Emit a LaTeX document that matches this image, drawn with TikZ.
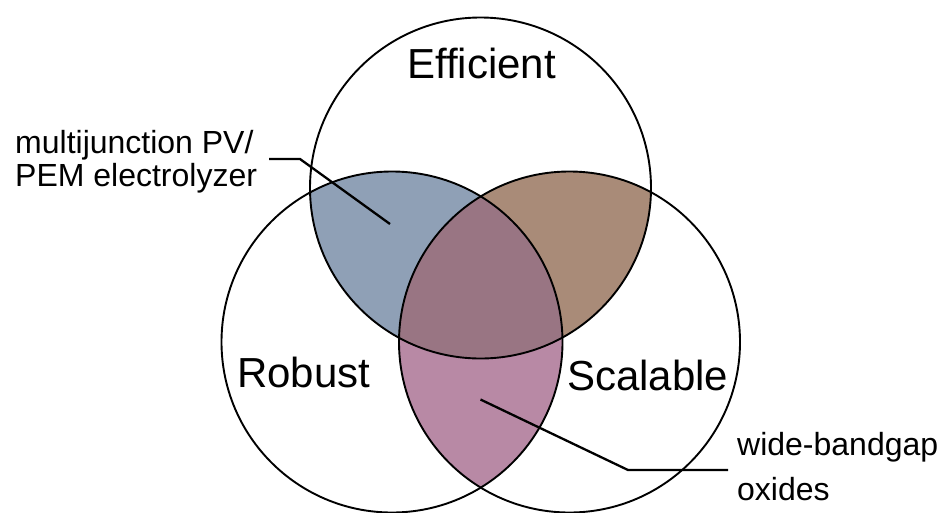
\documentclass[tikz,border=0pt]{standalone}
\usepackage{fontspec}
\setmainfont{Liberation Sans}
\usepackage{tikz}

\definecolor{pvblue}{RGB}{143,160,182}
\definecolor{pectan}{RGB}{169,139,120}
\definecolor{oxpink}{RGB}{184,137,165}
\definecolor{allmauve}{RGB}{153,117,131}

\begin{document}
\begin{tikzpicture}[x=1pt,y=-1pt,
    ring/.style={line width=1.9pt},
    lead/.style={line width=2.3pt},
    bigtext/.style={font=\fontsize{42}{48}\selectfont, inner sep=0pt},
    smalltext/.style={font=\fontsize{32}{33.5}\selectfont, inner sep=0pt, align=left}]
    \useasboundingbox (0,0) rectangle (940,512);
    \def\rad{170.5pt}
    \coordinate (E) at (480.5,188);
    \coordinate (R) at (392,342);
    \coordinate (S) at (569.5,342);
    % pairwise overlaps
    \begin{scope}
        \clip (E) circle (\rad);
        \fill[pvblue] (R) circle (\rad);
        \fill[pectan] (S) circle (\rad);
    \end{scope}
    \begin{scope}
        \clip (R) circle (\rad);
        \fill[oxpink] (S) circle (\rad);
    \end{scope}
    % triple overlap
    \begin{scope}
        \clip (E) circle (\rad);
        \clip (R) circle (\rad);
        \fill[allmauve] (S) circle (\rad);
    \end{scope}
    \draw[ring] (E) circle (\rad);
    \draw[ring] (R) circle (\rad);
    \draw[ring] (S) circle (\rad);
    % labels (base = last line)
    \node[bigtext, anchor=base] (eff) at (481.5,78) {Efficient};
    \node[bigtext, anchor=base west] (rob) at (237,387) {Robust};
    \node[bigtext, anchor=base west] (sca) at (567,390) {Scalable};
    \node[smalltext, anchor=base west] (pvlabel) at (15,186.5) {multijunction PV/\\PEM electrolyzer};
    \node[smalltext, font=\fontsize{32}{45}\selectfont, anchor=base west] (oxlabel) at (737,500.5) {wide-bandgap\\oxides};
    % leader lines
    \coordinate (pvknee) at (300,159);
    \coordinate (pvtip) at (390,224);
    \draw[lead] ([xshift=12pt]pvlabel.east |- pvknee) -- (pvknee) -- (pvtip);
    \coordinate (oxtip) at (480.5,399.5);
    \coordinate (oxknee) at (628,470);
    \draw[lead] (oxtip) -- (oxknee) -- ([xshift=-9pt]oxlabel.west |- oxknee);
\end{tikzpicture}
\end{document}
